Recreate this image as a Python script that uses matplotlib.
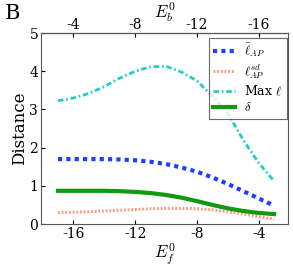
import numpy as np
import matplotlib
matplotlib.use("Agg")
import matplotlib.pyplot as plt

plt.rcParams['font.family'] = ['DejaVu Serif']
plt.rcParams['mathtext.fontset'] = 'cm'

# E_f^0 values and the four distance curves
ef = [-17, -16, -15, -14, -13, -12, -11, -10, -9, -8, -7, -6, -5, -4, -3]
l_bar = [1.70, 1.70, 1.70, 1.70, 1.69, 1.67, 1.63, 1.57, 1.48, 1.37, 1.22, 1.05, 0.86, 0.67, 0.48]
l_sd = [0.30, 0.31, 0.32, 0.34, 0.36, 0.38, 0.40, 0.41, 0.41, 0.40, 0.37, 0.32, 0.26, 0.19, 0.13]
max_l = [3.23, 3.30, 3.42, 3.60, 3.82, 4.00, 4.12, 4.13, 3.98, 3.75, 3.35, 2.90, 2.20, 1.60, 1.12]
delta = [0.87, 0.87, 0.87, 0.87, 0.86, 0.84, 0.81, 0.76, 0.69, 0.60, 0.50, 0.41, 0.34, 0.29, 0.26]

xticks = [-16, -12, -8, -4]

fig = plt.figure(figsize=(2.93, 2.67), dpi=100)
ax = fig.add_axes([0.140, 0.161, 0.843, 0.715])

ax.plot(ef, l_bar, color='#1f3fff', linestyle=(0, (1, 1)), lw=3, label=r'$\bar{\ell}_{AP}$')
ax.plot(ef, l_sd, color='#ff8060', linestyle=(0, (0.6, 0.6)), lw=2.2, alpha=0.8, label=r'$\ell_{AP}^{sd}$')
ax.plot(ef, max_l, color='#22cccc', linestyle=(0, (2, 1, 0.6, 1)), lw=2, label=r'Max $\ell$')
ax.plot(ef, delta, color='#119911', lw=3, label=r'$\delta$')

ax.set_xlim(-18.1, -2.1)
ax.set_ylim(0, 5)
ax.set_xticks(xticks)
ax.set_xticklabels([str(t) for t in xticks])
ax.set_yticks([0, 1, 2, 3, 4, 5])
ax.tick_params(direction='in', labelsize=10, pad=2, length=3)
ax.set_xlabel(r'$E_f^0$', fontsize=12, labelpad=0)
ax.set_ylabel('Distance', fontsize=12, labelpad=1)
for s in ax.spines.values():
    s.set_color('#555555')

top = ax.secondary_xaxis('top', functions=(lambda x: -20 - x, lambda x: -20 - x))
top.set_xticks([-4, -8, -12, -16])
top.set_xticklabels(['-4', '-8', '-12', '-16'])
top.tick_params(direction='in', labelsize=10, pad=1, length=3)
top.set_xlabel(r'$E_b^0$', fontsize=12, labelpad=0)

leg = ax.legend(loc='upper right', bbox_to_anchor=(0.995, 0.975), fontsize=9,
                fancybox=False, edgecolor='#444444', borderaxespad=0,
                handlelength=1.8, handletextpad=0.7, labelspacing=0.25, borderpad=0.35)
leg.get_frame().set_linewidth(0.8)

fig.text(0.015, 0.93, 'B', fontsize=15)

fig.savefig('out.png', dpi=100)
